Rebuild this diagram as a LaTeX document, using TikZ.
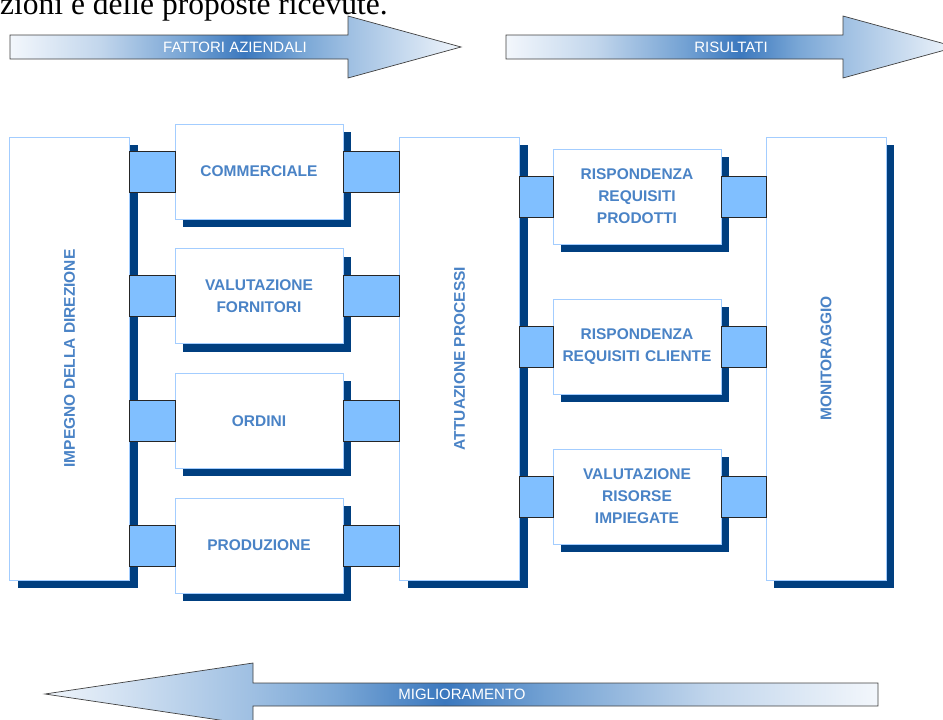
\documentclass[tikz,border=0pt]{standalone}
\usepackage{fontspec}
\setmainfont{Liberation Serif}
\newfontfamily\lsans{Liberation Sans}
\usetikzlibrary{calc,shadows}

% palette
\definecolor{boxline}{HTML}{A3CDFF}
\definecolor{boxshadow}{HTML}{003F80}
\definecolor{linkfill}{HTML}{80BFFF}
\definecolor{labelblue}{HTML}{4A83C6}
\definecolor{flA}{HTML}{F3F7FC}
\definecolor{flB}{HTML}{C2D6EC}
\definecolor{flC}{HTML}{72A1D3}
\definecolor{flD}{HTML}{3B78BE}
\definecolor{flE}{HTML}{7AA7D6}
\definecolor{flF}{HTML}{9EBFE2}
\definecolor{flG}{HTML}{F0F5FB}

% banded blue fill of the flow arrows: light ends, dark middle
\pgfdeclarehorizontalshading{flowshade}{100bp}{%
  color(0bp)=(flA); color(25bp)=(flA); color(35bp)=(flB);
  color(45bp)=(flC); color(51bp)=(flD); color(57.5bp)=(flE);
  color(62.5bp)=(flF); color(75bp)=(flG); color(100bp)=(flG)}

\tikzset{
  panel/.style={draw=boxline, line width=0.9pt, fill=white,
    inner sep=0pt, outer sep=0pt,
    drop shadow={shadow xshift=8pt, shadow yshift=-8pt,
      opacity=1, fill=boxshadow, draw=none}},
  tall/.style={panel, minimum width=120pt, minimum height=443pt},
  card/.style={panel, minimum width=168pt, minimum height=95pt,
    align=center, text width=160pt, text=labelblue,
    font=\lsans\bfseries\fontsize{15.5}{22}\selectfont},
  vlabel/.style={rotate=90, text=labelblue, inner sep=0pt,
    font=\lsans\bfseries\fontsize{15.5}{22}\selectfont},
  link/.style={draw=black!85, line width=0.8pt, fill=linkfill},
  flow/.style={draw=black!75, line width=0.7pt, shade, shading=flowshade},
  flowtext/.style={text=white, inner sep=0pt,
    font=\lsans\fontsize{15}{18}\selectfont},
}

\begin{document}
\begin{tikzpicture}[x=1pt, y=-1pt]
\useasboundingbox (0,0) rectangle (943,720);
\clip (0,0) rectangle (943,720);

% tail of the preceding text line
\node[anchor=base west, inner sep=0pt,
  font=\fontsize{31.5}{36}\selectfont] (caption) at (0,14)
  {zioni e delle proposte ricevute.};

% flow arrows
\draw[flow] (10,35) -- (348,35) -- (348,16) -- (461,47) -- (348,78)
  -- (348,59) -- (10,59) -- cycle;
\node[flowtext] (fattori) at (235,47) {FATTORI AZIENDALI};

\draw[flow] (506,35) -- (843,35) -- (843,16) -- (956,47) -- (843,78)
  -- (843,59) -- (506,59) -- cycle;
\node[flowtext] (risultati) at (731,47) {RISULTATI};

\draw[flow, shading angle=180] (45,694) -- (253,663) -- (253,683)
  -- (878,683) -- (878,706) -- (253,706) -- (253,725) -- cycle;
\node[flowtext] (miglior) at (462,694) {MIGLIORAMENTO};

% tall columns
\node[tall] (imp) at (69.5,358.5) {};
\node[vlabel] (impt) at (imp.center) {IMPEGNO DELLA DIREZIONE};
\node[tall] (att) at (459.5,358.5) {};
\node[vlabel] (attt) at (att.center) {ATTUAZIONE PROCESSI};
\node[tall] (mon) at (826,358.5) {};
\node[vlabel] (mont) at (mon.center) {MONITORAGGIO};

% business factors
\node[card] (com) at (259,171.5) {COMMERCIALE};
\node[card] (val) at (259,296.2) {VALUTAZIONE\\FORNITORI};
\node[card] (ord) at (259,420.8) {ORDINI};
\node[card] (pro) at (259,545.5) {PRODUZIONE};

% results
\node[card] (rrp) at (637,196.5) {RISPONDENZA\\REQUISITI\\PRODOTTI};
\node[card] (rrc) at (637,346.5) {RISPONDENZA\\REQUISITI CLIENTE};
\node[card] (vri) at (637,496.5) {VALUTAZIONE\\RISORSE\\IMPIEGATE};

% joining blocks
\foreach \n in {com,val,ord,pro}{
  \draw[link] ($(imp.east |- \n.center)+(0,-20.5)$) rectangle ($(\n.west)+(0,20.5)$);
  \draw[link] ($(\n.east)+(0,-20.5)$) rectangle ($(att.west |- \n.center)+(0,20.5)$);
}
\foreach \n in {rrp,rrc,vri}{
  \draw[link] ($(att.east |- \n.center)+(0,-20.5)$) rectangle ($(\n.west)+(0,20.5)$);
  \draw[link] ($(\n.east)+(0,-20.5)$) rectangle ($(mon.west |- \n.center)+(0,20.5)$);
}
\end{tikzpicture}
\end{document}
